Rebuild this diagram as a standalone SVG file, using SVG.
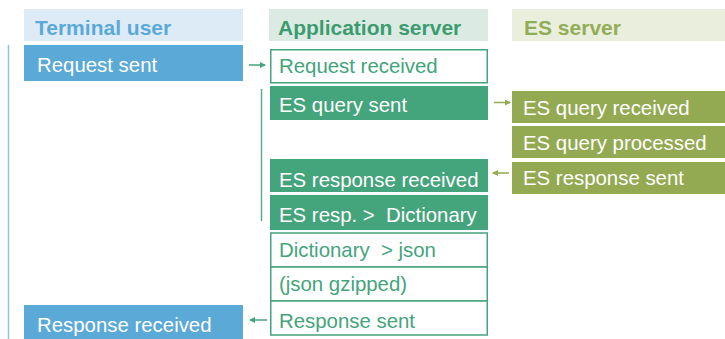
<svg xmlns="http://www.w3.org/2000/svg" width="725" height="339" viewBox="0 0 725 339">
<style>
text{font-family:"Liberation Sans",Arial,sans-serif;font-size:20.4px;white-space:pre}
.h{font-weight:bold;font-size:21px}
.w{fill:#fff}
.g{fill:#44a47b}
.tu{fill:#5aa9d6}
.app{fill:#44a47b}
.es{fill:#93aa52}
.box{fill:#fff;stroke:#44a47b;stroke-width:1.5}
.ag{stroke:#44a47b;stroke-width:1.5;fill:none}
.ao{stroke:#93aa52;stroke-width:1.5;fill:none}
</style>
<defs>
<marker id="mg" markerWidth="6" markerHeight="6" refX="5" refY="3" orient="auto" markerUnits="userSpaceOnUse"><path d="M0,0 L6,3 L0,6 Z" fill="#44a47b"/></marker>
<marker id="mo" markerWidth="6" markerHeight="6" refX="5" refY="3" orient="auto" markerUnits="userSpaceOnUse"><path d="M0,0 L6,3 L0,6 Z" fill="#93aa52"/></marker>
</defs>
<rect width="725" height="339" fill="#fff"/>
<g id="lanes">
<rect x="24" y="9" width="219" height="32" fill="#ddebf6"/>
<text class="h" x="35" y="35" fill="#5aa9d6">Terminal user</text>
<rect x="269" y="9" width="219" height="32" fill="#dbebe4"/>
<text class="h" x="278" y="35" fill="#3d9b70">Application server</text>
<rect x="512" y="9" width="213" height="32" fill="#e9eedd"/>
<text class="h" x="524" y="35" fill="#93ad56">ES server</text>
<line x1="8.5" y1="45" x2="8.5" y2="339" stroke="#8cc4e6" stroke-width="1.5"/>
<line x1="261.5" y1="89" x2="261.5" y2="221" stroke="#5aaf88" stroke-width="1.5"/>
</g>
<g id="request-sent"><rect class="tu" x="24" y="45" width="219" height="36"/><text class="w" x="37" y="72">Request sent</text></g>
<g id="request-received"><rect class="box" x="270.75" y="49.75" width="216.5" height="33"/><text class="g" x="279" y="73">Request received</text></g>
<g id="es-query-sent"><rect class="app" x="270" y="86" width="218" height="34"/><text class="w" x="279" y="111.5">ES query sent</text></g>
<g id="es-query-received"><rect class="es" x="512" y="91" width="213" height="32"/><text class="w" x="523" y="115">ES query received</text></g>
<g id="es-query-processed"><rect class="es" x="512" y="126" width="213" height="32"/><text class="w" x="523" y="150">ES query processed</text></g>
<g id="es-response-sent"><rect class="es" x="512" y="162" width="213" height="32"/><text class="w" x="523" y="185">ES response sent</text></g>
<g id="es-response-received"><rect class="app" x="270" y="159" width="218" height="33"/><text class="w" x="279" y="186.5">ES response received</text></g>
<g id="es-resp-dictionary"><rect class="app" x="270" y="195" width="218" height="35"/><text class="w" x="279" y="221.5">ES resp. &gt;  Dictionary</text></g>
<g id="dictionary-json"><rect class="box" x="270.75" y="233" width="216.5" height="34"/><text class="g" x="279" y="257">Dictionary  &gt; json</text></g>
<g id="json-gzipped"><rect class="box" x="270.75" y="267" width="216.5" height="34"/><text class="g" x="279" y="291">(json gzipped)</text></g>
<g id="response-sent"><rect class="box" x="270.75" y="301" width="216.5" height="34"/><text class="g" x="279" y="328">Response sent</text></g>
<g id="response-received"><rect class="tu" x="24" y="305" width="219" height="34"/><text class="w" x="37" y="331.5">Response received</text></g>
<g id="connectors">
<line class="ag" x1="249" y1="65" x2="265" y2="65" marker-end="url(#mg)"/>
<line class="ao" x1="494" y1="102.5" x2="510" y2="102.5" marker-end="url(#mo)"/>
<line class="ao" x1="509" y1="173" x2="493" y2="173" marker-end="url(#mo)"/>
<line class="ag" x1="267" y1="320" x2="250" y2="320" marker-end="url(#mg)"/>
</g>
</svg>
